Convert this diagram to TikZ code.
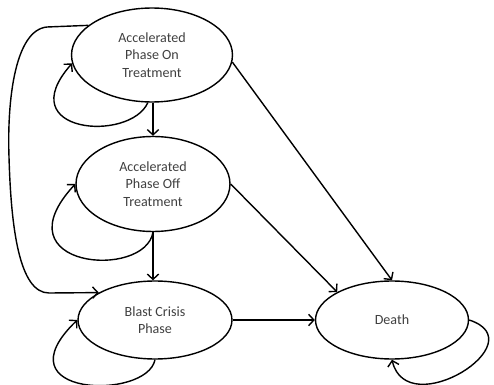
\documentclass[tikz,border=0pt]{standalone}
\usepackage{fontspec}
\setmainfont{Carlito}
\usepackage{tikz}
\usetikzlibrary{shapes.geometric, positioning, arrows.meta}
\definecolor{statetext}{RGB}{64,64,64}

\begin{document}
\begin{tikzpicture}[
    x=0.02cm, y=-0.02cm,
    state/.style={ellipse, draw, line width=0.8pt, inner sep=0pt, align=center, text=statetext, font=\fontsize{8}{10}\selectfont},
    arrow/.style={-{Straight Barb[length=3pt, width=6.5pt]}, line width=0.8pt}
]
    \useasboundingbox (0,0) rectangle (494,385);

    % States
    \node[state, minimum width=3.22cm, minimum height=1.88cm] (onTreat) at (152, 55) {Accelerated\\Phase On\\Treatment};
    \node[state, minimum width=3.08cm, minimum height=1.9cm] (offTreat) at (153, 184) {Accelerated\\Phase Off\\Treatment};
    \node[state, minimum width=3.08cm, minimum height=1.56cm] (blast) at (155, 320) {Blast Crisis\\Phase};
    \node[state, minimum width=3.06cm, minimum height=1.56cm] (death) at (392, 320) {Death};

    % Progression
    \draw[arrow] (onTreat.south -| offTreat) -- (offTreat);
    \draw[arrow] (offTreat) -- (offTreat |- blast.north);
    \draw[arrow] (blast) -- (death);
    \draw[arrow] (onTreat.-5) -- (death.north);
    \draw[arrow] (offTreat.east) -- (death.153);
    \draw[arrow] (onTreat.155) -- (47, 27) .. controls (15, 30) and (7, 100) .. (9, 157)
        .. controls (11, 227) and (19, 293) .. (49, 293) -- (blast.154);

    % Staying in the same state
    \draw[arrow] (onTreat.265) .. controls +(-18, 40) and +(-62, 70) .. (onTreat.186);
    \draw[arrow] (offTreat.270) .. controls +(-8, 48) and +(-78, 84) .. (offTreat.west);
    \draw[arrow] (blast.270) .. controls +(-8, 41) and +(-80, 77) .. (blast.west);
    \draw[arrow] (death.east) .. controls +(68, 22) and +(15, 64) .. (death.south);
\end{tikzpicture}
\end{document}
